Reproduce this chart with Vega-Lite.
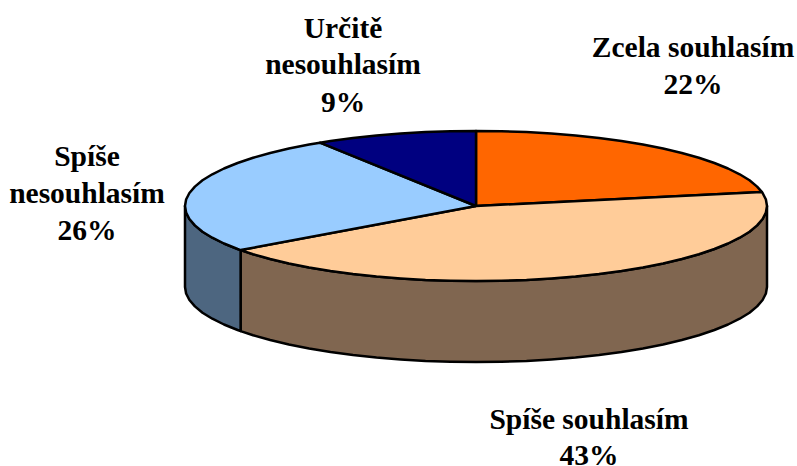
{
"$schema":"https://vega.github.io/schema/vega-lite/v6.json",
"width":797,"height":466,"padding":0,"autosize":{"type":"none"},
"background":"white","view":{"stroke":null},
"datasets":{
"walls":[
{"slice":"Spíše souhlasím","x":240.6,"y":250.1,"y2":331.1},{"slice":"Spíše souhlasím","x":253.1,"y":254.2,"y2":335.2},{"slice":"Spíše souhlasím","x":270.2,"y":259,"y2":340},{"slice":"Spíše souhlasím","x":288.9,"y":263.5,"y2":344.5},{"slice":"Spíše souhlasím","x":309.1,"y":267.4,"y2":348.4},{"slice":"Spíše souhlasím","x":330.5,"y":271,"y2":352},{"slice":"Spíše souhlasím","x":353,"y":274,"y2":355},{"slice":"Spíše souhlasím","x":376.5,"y":276.5,"y2":357.5},{"slice":"Spíše souhlasím","x":400.7,"y":278.4,"y2":359.4},{"slice":"Spíše souhlasím","x":425.5,"y":279.9,"y2":360.9},{"slice":"Spíše souhlasím","x":450.6,"y":280.7,"y2":361.7},{"slice":"Spíše souhlasím","x":476,"y":281,"y2":362},{"slice":"Spíše souhlasím","x":501.4,"y":280.7,"y2":361.7},{"slice":"Spíše souhlasím","x":526.5,"y":279.9,"y2":360.9},{"slice":"Spíše souhlasím","x":551.3,"y":278.4,"y2":359.4},{"slice":"Spíše souhlasím","x":575.5,"y":276.5,"y2":357.5},{"slice":"Spíše souhlasím","x":599,"y":274,"y2":355},{"slice":"Spíše souhlasím","x":621.5,"y":271,"y2":352},{"slice":"Spíše souhlasím","x":642.9,"y":267.4,"y2":348.4},{"slice":"Spíše souhlasím","x":663.1,"y":263.5,"y2":344.5},{"slice":"Spíše souhlasím","x":681.8,"y":259,"y2":340},{"slice":"Spíše souhlasím","x":698.9,"y":254.2,"y2":335.2},{"slice":"Spíše souhlasím","x":714.4,"y":249,"y2":330},{"slice":"Spíše souhlasím","x":728,"y":243.5,"y2":324.5},{"slice":"Spíše souhlasím","x":739.7,"y":237.7,"y2":318.7},{"slice":"Spíše souhlasím","x":749.5,"y":231.7,"y2":312.7},{"slice":"Spíše souhlasím","x":757.1,"y":225.4,"y2":306.4},{"slice":"Spíše souhlasím","x":762.6,"y":219,"y2":300},{"slice":"Spíše souhlasím","x":765.9,"y":212.5,"y2":293.5},{"slice":"Spíše souhlasím","x":767,"y":206,"y2":287},
{"slice":"Spíše nesouhlasím","x":185,"y":206,"y2":287},{"slice":"Spíše nesouhlasím","x":186.1,"y":212.5,"y2":293.5},{"slice":"Spíše nesouhlasím","x":189.4,"y":219,"y2":300},{"slice":"Spíše nesouhlasím","x":194.9,"y":225.4,"y2":306.4},{"slice":"Spíše nesouhlasím","x":202.5,"y":231.7,"y2":312.7},{"slice":"Spíše nesouhlasím","x":212.3,"y":237.7,"y2":318.7},{"slice":"Spíše nesouhlasím","x":224,"y":243.5,"y2":324.5},{"slice":"Spíše nesouhlasím","x":237.6,"y":249,"y2":330},{"slice":"Spíše nesouhlasím","x":240.6,"y":250.1,"y2":331.1}
],
"tops":[
{"slice":"Zcela souhlasím","o":0,"x":476,"y":206},{"slice":"Zcela souhlasím","o":1,"x":476,"y":131},{"slice":"Zcela souhlasím","o":2,"x":501.4,"y":131.3},{"slice":"Zcela souhlasím","o":3,"x":526.5,"y":132.1},{"slice":"Zcela souhlasím","o":4,"x":551.3,"y":133.6},{"slice":"Zcela souhlasím","o":5,"x":575.5,"y":135.5},{"slice":"Zcela souhlasím","o":6,"x":599,"y":138},{"slice":"Zcela souhlasím","o":7,"x":621.5,"y":141},{"slice":"Zcela souhlasím","o":8,"x":642.9,"y":144.6},{"slice":"Zcela souhlasím","o":9,"x":663.1,"y":148.5},{"slice":"Zcela souhlasím","o":10,"x":681.8,"y":153},{"slice":"Zcela souhlasím","o":11,"x":698.9,"y":157.8},{"slice":"Zcela souhlasím","o":12,"x":714.4,"y":163},{"slice":"Zcela souhlasím","o":13,"x":728,"y":168.5},{"slice":"Zcela souhlasím","o":14,"x":739.7,"y":174.3},{"slice":"Zcela souhlasím","o":15,"x":749.5,"y":180.3},{"slice":"Zcela souhlasím","o":16,"x":757.1,"y":186.6},{"slice":"Zcela souhlasím","o":17,"x":761.8,"y":191.9},{"slice":"Zcela souhlasím","o":18,"x":476,"y":206},
{"slice":"Spíše souhlasím","o":0,"x":476,"y":206},{"slice":"Spíše souhlasím","o":1,"x":761.8,"y":191.9},{"slice":"Spíše souhlasím","o":2,"x":762.6,"y":193},{"slice":"Spíše souhlasím","o":3,"x":765.9,"y":199.5},{"slice":"Spíše souhlasím","o":4,"x":767,"y":206},{"slice":"Spíše souhlasím","o":5,"x":765.9,"y":212.5},{"slice":"Spíše souhlasím","o":6,"x":762.6,"y":219},{"slice":"Spíše souhlasím","o":7,"x":757.1,"y":225.4},{"slice":"Spíše souhlasím","o":8,"x":749.5,"y":231.7},{"slice":"Spíše souhlasím","o":9,"x":739.7,"y":237.7},{"slice":"Spíše souhlasím","o":10,"x":728,"y":243.5},{"slice":"Spíše souhlasím","o":11,"x":714.4,"y":249},{"slice":"Spíše souhlasím","o":12,"x":698.9,"y":254.2},{"slice":"Spíše souhlasím","o":13,"x":681.8,"y":259},{"slice":"Spíše souhlasím","o":14,"x":663.1,"y":263.5},{"slice":"Spíše souhlasím","o":15,"x":642.9,"y":267.4},{"slice":"Spíše souhlasím","o":16,"x":621.5,"y":271},{"slice":"Spíše souhlasím","o":17,"x":599,"y":274},{"slice":"Spíše souhlasím","o":18,"x":575.5,"y":276.5},{"slice":"Spíše souhlasím","o":19,"x":551.3,"y":278.4},{"slice":"Spíše souhlasím","o":20,"x":526.5,"y":279.9},{"slice":"Spíše souhlasím","o":21,"x":501.4,"y":280.7},{"slice":"Spíše souhlasím","o":22,"x":476,"y":281},{"slice":"Spíše souhlasím","o":23,"x":450.6,"y":280.7},{"slice":"Spíše souhlasím","o":24,"x":425.5,"y":279.9},{"slice":"Spíše souhlasím","o":25,"x":400.7,"y":278.4},{"slice":"Spíše souhlasím","o":26,"x":376.5,"y":276.5},{"slice":"Spíše souhlasím","o":27,"x":353,"y":274},{"slice":"Spíše souhlasím","o":28,"x":330.5,"y":271},{"slice":"Spíše souhlasím","o":29,"x":309.1,"y":267.4},{"slice":"Spíše souhlasím","o":30,"x":288.9,"y":263.5},{"slice":"Spíše souhlasím","o":31,"x":270.2,"y":259},{"slice":"Spíše souhlasím","o":32,"x":253.1,"y":254.2},{"slice":"Spíše souhlasím","o":33,"x":240.6,"y":250.1},{"slice":"Spíše souhlasím","o":34,"x":476,"y":206},
{"slice":"Spíše nesouhlasím","o":0,"x":476,"y":206},{"slice":"Spíše nesouhlasím","o":1,"x":240.6,"y":250.1},{"slice":"Spíše nesouhlasím","o":2,"x":237.6,"y":249},{"slice":"Spíše nesouhlasím","o":3,"x":224,"y":243.5},{"slice":"Spíše nesouhlasím","o":4,"x":212.3,"y":237.7},{"slice":"Spíše nesouhlasím","o":5,"x":202.5,"y":231.7},{"slice":"Spíše nesouhlasím","o":6,"x":194.9,"y":225.4},{"slice":"Spíše nesouhlasím","o":7,"x":189.4,"y":219},{"slice":"Spíše nesouhlasím","o":8,"x":186.1,"y":212.5},{"slice":"Spíše nesouhlasím","o":9,"x":185,"y":206},{"slice":"Spíše nesouhlasím","o":10,"x":186.1,"y":199.5},{"slice":"Spíše nesouhlasím","o":11,"x":189.4,"y":193},{"slice":"Spíše nesouhlasím","o":12,"x":194.9,"y":186.6},{"slice":"Spíše nesouhlasím","o":13,"x":202.5,"y":180.3},{"slice":"Spíše nesouhlasím","o":14,"x":212.3,"y":174.3},{"slice":"Spíše nesouhlasím","o":15,"x":224,"y":168.5},{"slice":"Spíše nesouhlasím","o":16,"x":237.6,"y":163},{"slice":"Spíše nesouhlasím","o":17,"x":253.1,"y":157.8},{"slice":"Spíše nesouhlasím","o":18,"x":270.2,"y":153},{"slice":"Spíše nesouhlasím","o":19,"x":288.9,"y":148.5},{"slice":"Spíše nesouhlasím","o":20,"x":309.1,"y":144.6},{"slice":"Spíše nesouhlasím","o":21,"x":320,"y":142.7},{"slice":"Spíše nesouhlasím","o":22,"x":476,"y":206},
{"slice":"Určitě nesouhlasím","o":0,"x":476,"y":206},{"slice":"Určitě nesouhlasím","o":1,"x":320,"y":142.7},{"slice":"Určitě nesouhlasím","o":2,"x":330.5,"y":141},{"slice":"Určitě nesouhlasím","o":3,"x":353,"y":138},{"slice":"Určitě nesouhlasím","o":4,"x":376.5,"y":135.5},{"slice":"Určitě nesouhlasím","o":5,"x":400.7,"y":133.6},{"slice":"Určitě nesouhlasím","o":6,"x":425.5,"y":132.1},{"slice":"Určitě nesouhlasím","o":7,"x":450.6,"y":131.3},{"slice":"Určitě nesouhlasím","o":8,"x":476,"y":131},{"slice":"Určitě nesouhlasím","o":9,"x":476,"y":206}
],
"labels":[
{"x":693,"y":57,"t":"Zcela souhlasím"},{"x":693,"y":94,"t":"22%"},
{"x":589,"y":429,"t":"Spíše souhlasím"},{"x":589,"y":465,"t":"43%"},
{"x":87,"y":166,"t":"Spíše"},{"x":87,"y":203,"t":"nesouhlasím"},{"x":87,"y":240,"t":"26%"},
{"x":343,"y":38,"t":"Určitě"},{"x":343,"y":74,"t":"nesouhlasím"},{"x":343,"y":112,"t":"9%"}
]
},
"layer":[
{"data":{"name":"walls"},
 "mark":{"type":"area","stroke":"black","strokeWidth":2.5,"strokeJoin":"round","orient":"vertical"},
 "encoding":{
  "x":{"field":"x","type":"quantitative","scale":{"domain":[0,797],"nice":false,"zero":false},"axis":null},
  "y":{"field":"y","type":"quantitative","scale":{"domain":[466,0],"nice":false,"zero":false},"axis":null},
  "y2":{"field":"y2"},
  "fill":{"field":"slice","type":"nominal","scale":{"domain":["Spíše souhlasím","Spíše nesouhlasím"],"range":["#806650","#4D6680"]},"legend":null}
 }},
{"data":{"name":"tops"},
 "transform":[{"filter":"datum.slice==='Zcela souhlasím'"}],
 "mark":{"type":"line","fill":"#FF6600","stroke":"black","strokeWidth":2.5,"strokeJoin":"round"},
 "encoding":{"x":{"field":"x","type":"quantitative","axis":null},"y":{"field":"y","type":"quantitative","axis":null},"order":{"field":"o","type":"quantitative"}}},
{"data":{"name":"tops"},
 "transform":[{"filter":"datum.slice==='Spíše souhlasím'"}],
 "mark":{"type":"line","fill":"#FFCC99","stroke":"black","strokeWidth":2.5,"strokeJoin":"round"},
 "encoding":{"x":{"field":"x","type":"quantitative","axis":null},"y":{"field":"y","type":"quantitative","axis":null},"order":{"field":"o","type":"quantitative"}}},
{"data":{"name":"tops"},
 "transform":[{"filter":"datum.slice==='Spíše nesouhlasím'"}],
 "mark":{"type":"line","fill":"#99CCFF","stroke":"black","strokeWidth":2.5,"strokeJoin":"round"},
 "encoding":{"x":{"field":"x","type":"quantitative","axis":null},"y":{"field":"y","type":"quantitative","axis":null},"order":{"field":"o","type":"quantitative"}}},
{"data":{"name":"tops"},
 "transform":[{"filter":"datum.slice==='Určitě nesouhlasím'"}],
 "mark":{"type":"line","fill":"#000080","stroke":"black","strokeWidth":2.5,"strokeJoin":"round"},
 "encoding":{"x":{"field":"x","type":"quantitative","axis":null},"y":{"field":"y","type":"quantitative","axis":null},"order":{"field":"o","type":"quantitative"}}},
{"data":{"name":"labels"},
 "mark":{"type":"text","font":"'Liberation Serif', 'Times New Roman', serif","fontWeight":"bold","fontSize":29.5,"align":"center","baseline":"alphabetic","color":"black"},
 "encoding":{"x":{"field":"x","type":"quantitative","axis":null},"y":{"field":"y","type":"quantitative","axis":null},"text":{"field":"t","type":"nominal"}}}
]
}
